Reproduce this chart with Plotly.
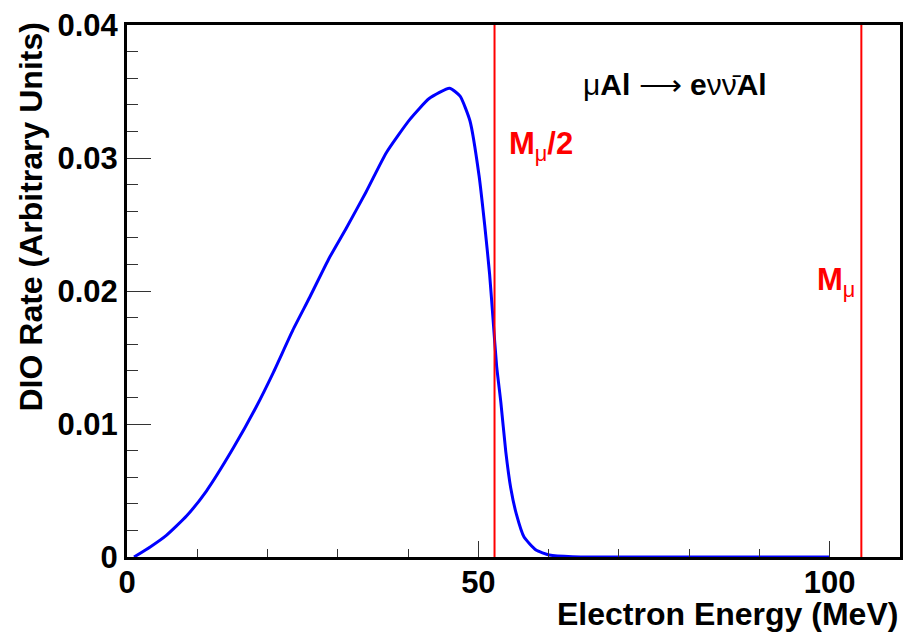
import plotly.graph_objects as go

# Data
energy = [1.0, 3.3, 5.6, 8.5, 11.3, 15.1, 18.4, 20.8, 23.6, 26.0, 28.8, 31.2, 34.0,
          36.9, 40.2, 43.0, 45.9, 47.4, 48.8, 50.1, 50.9, 51.6, 52.1, 52.6, 53.2,
          53.9, 54.6, 55.4, 56.5, 58.2, 60.1, 63.4, 70.0, 80.0, 90.0, 100.0]
rate = [0.0, 0.00076, 0.00163, 0.0031, 0.00496, 0.00817, 0.0113, 0.01385, 0.01706,
        0.01953, 0.0225, 0.02472, 0.02743, 0.0304, 0.03287, 0.03447, 0.03525,
        0.03465, 0.0328, 0.02867, 0.02496, 0.02126, 0.01780, 0.01435, 0.01163,
        0.00793, 0.00521, 0.00324, 0.0015, 0.00052, 0.00015, 0.00002, 0.0, 0.0, 0.0, 0.0]

half_mass = 52.3
full_mass = 104.5
x_range = [0, 110]
y_range = [0, 0.04]

FONT = "Liberation Sans, Arial, Helvetica, sans-serif"
FS = 31

fig = go.Figure()
fig.add_trace(go.Scatter(x=energy, y=rate, mode="lines",
                         line=dict(color="#0000ff", width=3, shape="spline", smoothing=0.5),
                         showlegend=False, hoverinfo="skip"))
for xv in (half_mass, full_mass):
    fig.add_trace(go.Scatter(x=[xv, xv], y=y_range, mode="lines",
                             line=dict(color="#ff0000", width=2),
                             showlegend=False, hoverinfo="skip"))

fig.update_layout(
    width=911, height=632,
    margin=dict(l=127, r=8, t=18, b=75),
    paper_bgcolor="white", plot_bgcolor="white",
    font=dict(family=FONT, size=FS, color="black", weight="bold"),
    xaxis=dict(range=x_range, dtick=50, tick0=0, ticks="inside", ticklen=16,
               tickwidth=1, tickcolor="#333", showgrid=False, zeroline=False,
               showline=True, linecolor="black", linewidth=3, mirror=True,
               ticklabelstandoff=-4,
               tickfont=dict(family=FONT, size=FS, color="black", weight="bold"),
               minor=dict(dtick=10, tick0=0, ticks="inside", ticklen=8,
                          tickwidth=1, tickcolor="#333", showgrid=False)),
    yaxis=dict(range=y_range, dtick=0.01, tick0=0, ticks="inside", ticklen=24,
               tickwidth=1, tickcolor="#333", showgrid=False, zeroline=False,
               showline=True, linecolor="black", linewidth=3, mirror=True,
               tickfont=dict(family=FONT, size=FS, color="black", weight="bold"),
               minor=dict(dtick=0.002, tick0=0, ticks="inside", ticklen=11,
                          tickwidth=1, tickcolor="#333", showgrid=False)),
    annotations=[
        dict(text="Electron Energy (MeV)", xref="paper", yref="paper", x=1, y=0,
             xanchor="right", yanchor="top", yshift=-37, showarrow=False,
             font=dict(family=FONT, size=32, color="black", weight="bold")),
        dict(text="DIO Rate (Arbitrary Units)", xref="paper", yref="paper",
             x=0, y=1, xanchor="center", yanchor="top", xshift=-97, yshift=4,
             textangle=-90, showarrow=False,
             font=dict(family=FONT, size=32, color="black", weight="bold")),
        dict(text="μ<b>Al</b> \u27f6 <b>e</b>νν\u0304<b>Al</b>", x=78.0, y=0.03556,
             xanchor="center", yanchor="middle", showarrow=False,
             font=dict(family=FONT, size=30, color="black", weight="normal")),
        dict(text="<b>M</b><sub>μ</sub><b>/2</b>", x=54.1, y=0.0309,
             xanchor="left", yanchor="middle", showarrow=False,
             font=dict(family=FONT, size=31, color="#ff0000", weight="normal")),
        dict(text="<b>M</b><sub>μ</sub>", x=97.9, y=0.0207,
             xanchor="left", yanchor="middle", showarrow=False,
             font=dict(family=FONT, size=31, color="#ff0000", weight="normal")),
    ],
)

fig.write_html("out.html", config={"displayModeBar": False},
               post_script="document.body.style.margin='0';")
